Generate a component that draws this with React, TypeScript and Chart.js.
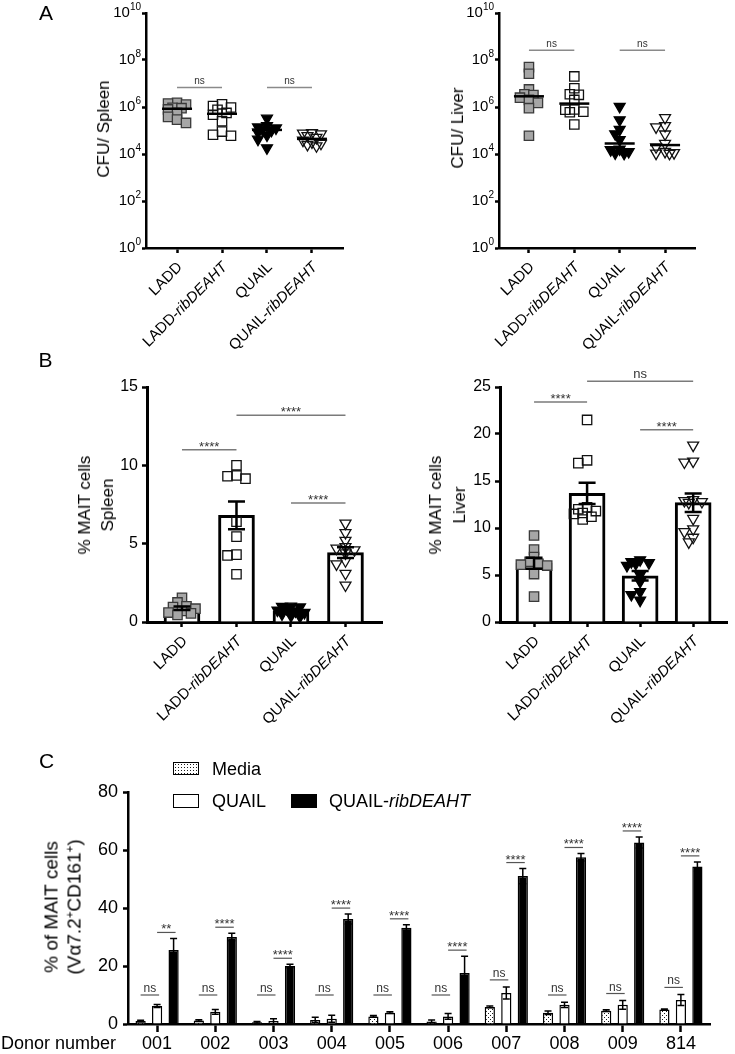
import React, { useEffect, useRef } from "react";
import { Chart, registerables } from "chart.js";

Chart.register(...registerables);

const FONT = '"Liberation Sans", Arial, Helvetica, sans-serif';

// Strain groups used in panels A and B
const strains = ["LADD", "LADD-ribDEAHT", "QUAIL", "QUAIL-ribDEAHT"];

// ---------- Panel A: bacterial burden (CFU per organ, one value per mouse) ----------
const cfuTicks = [1, 1e2, 1e4, 1e6, 1e8, 1e10];

const cfuSpleenLADD = [1.5e6, 1.4e6, 1.26e6, 9.3e5, 8.9e5, 7.9e5, 5.6e5, 3.8e5, 2.9e5, 2.1e5];
const cfuSpleenLADDrib = [1.3e6, 1.1e6, 9.5e5, 7.6e5, 5.6e5, 4.7e5, 2.5e5, 9.0e4, 6.6e4, 6.0e4];
const cfuSpleenQUAIL = [3.3e5, 1.6e5, 1.4e5, 1.26e5, 1.12e5, 1.0e5, 8.3e4, 6.3e4, 4.2e4, 1.8e4];
const cfuSpleenQUAILrib = [7.9e4, 7.6e4, 7.1e4, 6.0e4, 5.0e4, 3.8e4, 3.2e4, 2.8e4, 2.5e4, 2.2e4];

const cfuLiverLADD = [5.0e7, 2.6e7, 5.6e6, 3.5e6, 3.2e6, 2.5e6, 2.0e6, 1.5e6, 8.9e5, 6.0e4];
const cfuLiverLADDrib = [2.0e7, 6.3e6, 3.5e6, 3.3e6, 2.0e6, 7.9e5, 7.6e5, 6.3e5, 6.0e5, 1.8e5];
const cfuLiverQUAIL = [1.05e6, 2.8e5, 1.1e5, 7.1e4, 4.0e4, 1.6e4, 1.5e4, 1.25e4, 1.1e4, 1.05e4];
const cfuLiverQUAILrib = [3.5e5, 1.6e5, 1.4e5, 7.0e4, 2.8e4, 2.0e4, 1.26e4, 1.12e4, 1.07e4, 1.05e4];

const cfuSpleen = [cfuSpleenLADD, cfuSpleenLADDrib, cfuSpleenQUAIL, cfuSpleenQUAILrib];
const cfuLiver = [cfuLiverLADD, cfuLiverLADDrib, cfuLiverQUAIL, cfuLiverQUAILrib];

type Bracket = { from: number; to: number; at: number; label: string };

const cfuSpleenBrackets: Bracket[] = [
  { from: 0, to: 1, at: 6.8e6, label: "ns" },
  { from: 2, to: 3, at: 6.8e6, label: "ns" },
];
const cfuLiverBrackets: Bracket[] = [
  { from: 0, to: 1, at: 2.6e8, label: "ns" },
  { from: 2, to: 3, at: 2.6e8, label: "ns" },
];

// ---------- Panel B: % MAIT cells per mouse ----------
const maitSpleenLADD = [1.55, 1.25, 1.0, 0.95, 0.85, 0.7, 0.6, 0.55, 0.45];
const maitSpleenLADDrib = [10.0, 9.35, 9.15, 9.3, 6.4, 5.45, 4.3, 4.25, 3.05];
const maitSpleenQUAIL = [1.0, 0.98, 0.95, 0.85, 0.75, 0.7, 0.6, 0.5, 0.4, 0.35];
const maitSpleenQUAILrib = [6.3, 5.7, 5.2, 4.8, 4.7, 4.6, 4.4, 3.9, 3.7, 3.1, 2.35];

const maitLiverLADD = [9.2, 7.7, 6.9, 6.4, 6.2, 6.1, 6.0, 5.1, 2.7];
const maitLiverLADDrib = [21.5, 17.2, 16.9, 12.2, 12.0, 11.8, 11.6, 11.5, 11.2, 10.9];
const maitLiverQUAIL = [6.6, 6.4, 6.3, 6.2, 6.0, 5.0, 4.3, 3.2, 2.9, 2.3];
const maitLiverQUAILrib = [18.8, 17.1, 17.0, 13.0, 12.9, 12.8, 12.7, 11.0, 9.9, 9.6, 9.0, 8.5];

const maitSpleen = [maitSpleenLADD, maitSpleenLADDrib, maitSpleenQUAIL, maitSpleenQUAILrib];
const maitLiver = [maitLiverLADD, maitLiverLADDrib, maitLiverQUAIL, maitLiverQUAILrib];

const maitSpleenBrackets: Bracket[] = [
  { from: 0, to: 1, at: 11.0, label: "****" },
  { from: 2, to: 3, at: 7.6, label: "****" },
  { from: 1, to: 3, at: 13.2, label: "****" },
];
const maitLiverBrackets: Bracket[] = [
  { from: 0, to: 1, at: 23.4, label: "****" },
  { from: 2, to: 3, at: 20.45, label: "****" },
  { from: 1, to: 3, at: 25.6, label: "ns" },
];

// ---------- Panel C: human donor MAIT activation (mean, SEM) ----------
const donors = ["001", "002", "003", "004", "005", "006", "007", "008", "009", "814"];
const mediaMean = [1.0, 1.2, 0.6, 1.4, 2.6, 0.9, 5.9, 3.9, 4.6, 5.0];
const mediaErr = [0.3, 0.3, 0.3, 0.9, 0.3, 0.5, 0.3, 0.6, 0.3, 0.2];
const quailMean = [6.2, 4.2, 1.0, 1.8, 3.9, 2.6, 10.7, 6.6, 6.6, 8.3];
const quailErr = [0.5, 0.8, 0.8, 1.2, 0.3, 1.0, 2.1, 0.9, 1.5, 1.9];
const ribMean = [25.5, 30.0, 20.0, 36.2, 33.2, 17.6, 51.0, 57.5, 62.6, 54.3];
const ribErr = [4.0, 1.3, 0.6, 1.7, 1.0, 5.8, 2.6, 1.3, 1.9, 1.6];
const mediaVsQuail = ["ns", "ns", "ns", "ns", "ns", "ns", "ns", "ns", "ns", "ns"];
const quailVsRib = ["**", "****", "****", "****", "****", "****", "****", "****", "****", "****"];
const NS_FLOOR = 10; // lowest level for the Media-vs-QUAIL comparison lines

// ---------- helpers ----------
const mean = (a: number[]) => a.reduce((s, v) => s + v, 0) / a.length;
const sem = (a: number[]) => {
  const m = mean(a);
  const v = a.reduce((s, x) => s + (x - m) * (x - m), 0) / (a.length - 1);
  return Math.sqrt(v) / Math.sqrt(a.length);
};
const median = (a: number[]) => {
  const s = [...a].sort((p, q) => p - q);
  const n = s.length;
  return n % 2 ? s[(n - 1) / 2] : (s[n / 2 - 1] + s[n / 2]) / 2;
};

// deterministic beeswarm: spreads points sideways (in pixels) within +/- maxPx
function swarm(vals: number[], toPx: (v: number) => number, size: number, pxPerUnit: number, maxPx: number) {
  const order = vals.map((_, i) => i).sort((a, b) => toPx(vals[a]) - toPx(vals[b]));
  const placed: [number, number][] = [];
  const out = vals.map(() => 0);
  const stepPx = size * 0.45;
  for (const i of order) {
    const y = toPx(vals[i]);
    let chosen: number | null = null;
    let best = 0;
    let bestGap = -1;
    for (let k = 0; k < 60; k++) {
      const step = Math.ceil(k / 2) * stepPx * (k % 2 ? -1 : 1);
      if (Math.abs(step) > maxPx) break;
      const gap = placed.reduce((g, [px, py]) => Math.min(g, Math.hypot(px - step, py - y)), Infinity);
      if (gap >= size * 0.62) {
        chosen = step;
        break;
      }
      if (gap > bestGap) {
        bestGap = gap;
        best = step;
      }
    }
    const x = chosen === null ? best : chosen;
    placed.push([x, y]);
    out[i] = x / pxPerUnit;
  }
  return out;
}

const markers = [
  { style: "rect", rotation: 0, fill: "#a6a6a6", stroke: "#3a3a3a" },
  { style: "rect", rotation: 0, fill: "rgba(255,255,255,0)", stroke: "#111" },
  { style: "triangle", rotation: 180, fill: "#000", stroke: "#000" },
  { style: "triangle", rotation: 180, fill: "rgba(255,255,255,0)", stroke: "#111" },
];

type Box = { left: number; top: number; width: number; height: number };
type Area = { left: number; top: number; right: number; bottom: number };

function framing(box: Box, area: Area, yAxisW: number) {
  return {
    padding: {
      left: area.left - box.left - yAxisW,
      top: area.top - box.top,
      right: box.left + box.width - area.right,
      bottom: 0,
    },
    xAxisH: box.top + box.height - area.bottom,
    yAxisW,
  };
}

const baseOptions = (f: any) => ({
  animation: false,
  responsive: false,
  devicePixelRatio: 1,
  events: [],
  layout: { padding: f.padding },
  plugins: { legend: { display: false }, tooltip: { enabled: false } },
});

const axisLine = (w: number) => ({ display: true, color: "#000", width: w });
const tickMarks = (len: number, w: number) => ({
  display: true,
  drawOnChartArea: false,
  drawTicks: true,
  tickLength: len,
  tickWidth: w,
  tickColor: "#000",
  offset: false,
});

function drawBracket(ctx: CanvasRenderingContext2D, x1: number, x2: number, y: number, label: string, size: number, lineColor: string, lw: number) {
  ctx.save();
  ctx.strokeStyle = lineColor;
  ctx.lineWidth = lw;
  ctx.beginPath();
  ctx.moveTo(x1, y);
  ctx.lineTo(x2, y);
  ctx.stroke();
  ctx.fillStyle = "#333";
  ctx.font = `${size}px ${FONT}`;
  ctx.textAlign = "center";
  ctx.textBaseline = "alphabetic";
  const stars = label.includes("*");
  ctx.fillText(label, (x1 + x2) / 2, stars ? y + 1 : y - 3);
  ctx.restore();
}

// rotated strain names, the part after "-" in italics
function drawStrainLabels(ctx: CanvasRenderingContext2D, xs: any, axisY: number, size: number) {
  strains.forEach((name, i) => {
    const cut = name.indexOf("-");
    const head = cut >= 0 ? name.slice(0, cut + 1) : name;
    const tail = cut >= 0 ? name.slice(cut + 1) : "";
    ctx.save();
    ctx.translate(xs.getPixelForValue(i) + 3, axisY + 17);
    ctx.rotate(-Math.PI / 4);
    ctx.fillStyle = "#000";
    ctx.textBaseline = "middle";
    ctx.textAlign = "left";
    ctx.font = `${size}px ${FONT}`;
    const w1 = ctx.measureText(head).width;
    ctx.font = `italic ${size}px ${FONT}`;
    const w2 = tail ? ctx.measureText(tail).width : 0;
    ctx.font = `${size}px ${FONT}`;
    ctx.fillText(head, -(w1 + w2), 0);
    if (tail) {
      ctx.font = `italic ${size}px ${FONT}`;
      ctx.fillText(tail, -w2, 0);
    }
    ctx.restore();
  });
}

// "10" with a superscript exponent for the log axis
function drawPowerTicks(ctx: CanvasRenderingContext2D, ys: any, xRight: number) {
  ctx.save();
  ctx.fillStyle = "#000";
  cfuTicks.forEach((v) => {
    const py = ys.getPixelForValue(v);
    const exp = String(Math.round(Math.log10(v)));
    ctx.font = `10px ${FONT}`;
    const ew = ctx.measureText(exp).width;
    ctx.textAlign = "right";
    ctx.textBaseline = "alphabetic";
    ctx.fillText(exp, xRight, py - 3);
    ctx.font = `15px ${FONT}`;
    ctx.textBaseline = "middle";
    ctx.fillText("10", xRight - ew, py);
  });
  ctx.restore();
}

// ---------- chart builders ----------
function cfuConfig(groups: number[][], brackets: Bracket[], box: Box, area: Area, xMin: number, xMax: number) {
  const f = framing(box, area, 40);
  const decadePx = (area.bottom - area.top) / 10;
  const catPx = (area.right - area.left) / (xMax - xMin);
  const datasets = groups.map((vals, g) => {
    const offs = swarm(vals, (v) => -Math.log10(v) * decadePx, 10, catPx, 12);
    const m = markers[g];
    return {
      type: "scatter",
      data: vals.map((v, j) => ({ x: g + offs[j], y: v })),
      pointStyle: m.style,
      pointRotation: m.rotation,
      pointRadius: m.style === "rect" ? 6.6 : 6.3,
      pointBackgroundColor: m.fill,
      pointBorderColor: m.stroke,
      pointBorderWidth: 1.3,
      showLine: false,
    };
  });
  return {
    type: "scatter",
    data: { datasets },
    options: {
      ...baseOptions(f),
      scales: {
        x: {
          type: "linear",
          min: xMin,
          max: xMax,
          offset: false,
          afterBuildTicks: (s: any) => {
            s.ticks = [0, 1, 2, 3].map((value) => ({ value }));
          },
          ticks: { display: false },
          grid: tickMarks(5, 2.5),
          border: axisLine(2.5),
          afterFit: (s: any) => {
            s.height = f.xAxisH;
          },
        },
        y: {
          type: "logarithmic",
          min: 1,
          max: 1e10,
          afterBuildTicks: (s: any) => {
            s.ticks = cfuTicks.map((value) => ({ value }));
          },
          ticks: { display: false },
          grid: tickMarks(4, 2.5),
          border: axisLine(2.5),
          afterFit: (s: any) => {
            s.width = f.yAxisW;
          },
        },
      },
    },
    plugins: [
      {
        id: "cfuOverlay",
        afterDraw(chart: any) {
          const { ctx, chartArea } = chart;
          const xs = chart.scales.x;
          const ys = chart.scales.y;
          ctx.save();
          ctx.strokeStyle = "#000";
          ctx.lineWidth = 2.5;
          groups.forEach((vals, g) => {
            const px = xs.getPixelForValue(g);
            const py = ys.getPixelForValue(median(vals));
            ctx.beginPath();
            ctx.moveTo(px - 15, py);
            ctx.lineTo(px + 15, py);
            ctx.stroke();
          });
          ctx.restore();
          brackets.forEach((b) =>
            drawBracket(ctx, xs.getPixelForValue(b.from), xs.getPixelForValue(b.to), ys.getPixelForValue(b.at), b.label, 10, "#8a8a8a", 1.5)
          );
          drawPowerTicks(ctx, ys, chartArea.left - 5);
          drawStrainLabels(ctx, xs, chartArea.bottom, 15);
        },
      },
    ],
  };
}

function maitConfig(groups: number[][], brackets: Bracket[], box: Box, area: Area, xMin: number, xMax: number, yMax: number) {
  const f = framing(box, area, 40);
  const unitPx = (area.bottom - area.top) / yMax;
  const catPx = (area.right - area.left) / (xMax - xMin);
  const points = groups.map((vals, g) => {
    const offs = swarm(vals, (v) => -v * unitPx, 10, catPx, 14);
    const m = markers[g];
    return {
      type: "scatter",
      order: 1,
      data: vals.map((v, j) => ({ x: g + offs[j], y: v })),
      pointStyle: m.style,
      pointRotation: m.rotation,
      pointRadius: m.style === "rect" ? 6.6 : 6.3,
      pointBackgroundColor: m.fill,
      pointBorderColor: m.stroke,
      pointBorderWidth: 1.3,
      showLine: false,
    };
  });
  const bars = {
    type: "bar",
    order: 2,
    data: groups.map((vals, g) => ({ x: g, y: mean(vals) })),
    backgroundColor: "#fff",
    borderColor: "#000",
    borderWidth: 3,
    barThickness: 36,
  };
  return {
    type: "bar",
    data: { datasets: [bars, ...points] },
    options: {
      ...baseOptions(f),
      scales: {
        x: {
          type: "linear",
          min: xMin,
          max: xMax,
          offset: false,
          afterBuildTicks: (s: any) => {
            s.ticks = [0, 1, 2, 3].map((value) => ({ value }));
          },
          ticks: { display: false },
          grid: tickMarks(5, 2.5),
          border: axisLine(3),
          afterFit: (s: any) => {
            s.height = f.xAxisH;
          },
        },
        y: {
          type: "linear",
          min: 0,
          max: yMax,
          ticks: { stepSize: 5, color: "#000", font: { family: FONT, size: 16 }, padding: 4 },
          grid: tickMarks(5, 2.5),
          border: axisLine(3),
          afterFit: (s: any) => {
            s.width = f.yAxisW;
          },
        },
      },
    },
    plugins: [
      {
        id: "maitOverlay",
        afterDraw(chart: any) {
          const { ctx, chartArea } = chart;
          const xs = chart.scales.x;
          const ys = chart.scales.y;
          ctx.save();
          ctx.strokeStyle = "#000";
          ctx.lineWidth = 2.5;
          groups.forEach((vals, g) => {
            const m = mean(vals);
            const e = sem(vals);
            const px = xs.getPixelForValue(g);
            const top = ys.getPixelForValue(m + e);
            const bot = ys.getPixelForValue(Math.max(0, m - e));
            ctx.beginPath();
            ctx.moveTo(px, top);
            ctx.lineTo(px, bot);
            ctx.moveTo(px - 8.5, top);
            ctx.lineTo(px + 8.5, top);
            ctx.moveTo(px - 8.5, bot);
            ctx.lineTo(px + 8.5, bot);
            ctx.stroke();
          });
          ctx.restore();
          brackets.forEach((b) =>
            drawBracket(ctx, xs.getPixelForValue(b.from), xs.getPixelForValue(b.to), ys.getPixelForValue(b.at), b.label, 13, "#7a7a7a", 1.5)
          );
          drawStrainLabels(ctx, xs, chartArea.bottom, 15);
        },
      },
    ],
  };
}

function dotPattern() {
  const c = document.createElement("canvas");
  c.width = 4;
  c.height = 4;
  const g = c.getContext("2d") as CanvasRenderingContext2D;
  g.fillStyle = "#fff";
  g.fillRect(0, 0, 4, 4);
  g.fillStyle = "#1a1a1a";
  g.fillRect(0, 0, 1, 1);
  g.fillRect(2, 2, 1, 1);
  return g.createPattern(c, "repeat") as CanvasPattern;
}

function donorConfig(box: Box, area: Area) {
  const f = framing(box, area, 50);
  const common = { borderColor: "#000", borderWidth: 1.5, categoryPercentage: 0.85, barPercentage: 0.62 };
  const errs = [mediaErr, quailErr, ribErr];
  const means = [mediaMean, quailMean, ribMean];
  const X_TICK = 8;
  const X_PAD = 1;
  return {
    type: "bar",
    data: {
      labels: donors,
      datasets: [
        { label: "Media", data: mediaMean, backgroundColor: dotPattern(), ...common },
        { label: "QUAIL", data: quailMean, backgroundColor: "#fff", ...common },
        { label: "QUAIL-ribDEAHT", data: ribMean, backgroundColor: "#000", ...common },
      ],
    },
    options: {
      ...baseOptions(f),
      scales: {
        x: {
          type: "category",
          offset: true,
          ticks: { color: "#000", font: { family: FONT, size: 18 }, padding: X_PAD, autoSkip: false, maxRotation: 0 },
          grid: tickMarks(X_TICK, 2.5),
          border: axisLine(2.5),
          afterFit: (s: any) => {
            s.height = f.xAxisH;
          },
        },
        y: {
          type: "linear",
          min: 0,
          max: 80,
          ticks: { stepSize: 20, color: "#000", font: { family: FONT, size: 18 }, padding: 5 },
          grid: tickMarks(5, 2.5),
          border: axisLine(2.5),
          afterFit: (s: any) => {
            s.width = f.yAxisW;
          },
        },
      },
    },
    plugins: [
      {
        id: "donorOverlay",
        afterDraw(chart: any) {
          const { ctx, chartArea } = chart;
          const ys = chart.scales.y;
          const metas = [0, 1, 2].map((d) => chart.getDatasetMeta(d).data);
          ctx.save();
          ctx.strokeStyle = "#000";
          ctx.lineWidth = 1.5;
          metas.forEach((bars: any[], d) => {
            bars.forEach((bar: any, i: number) => {
              const m = means[d][i];
              const e = errs[d][i];
              const top = ys.getPixelForValue(m + e);
              const bot = ys.getPixelForValue(Math.max(0, m - e));
              ctx.beginPath();
              ctx.moveTo(bar.x, top);
              ctx.lineTo(bar.x, bot);
              ctx.moveTo(bar.x - 3.5, top);
              ctx.lineTo(bar.x + 3.5, top);
              ctx.moveTo(bar.x - 3.5, bot);
              ctx.lineTo(bar.x + 3.5, bot);
              ctx.stroke();
            });
          });
          ctx.restore();
          donors.forEach((_, i) => {
            const b0 = metas[0][i];
            const b1 = metas[1][i];
            const b2 = metas[2][i];
            const lowTop = Math.min(
              ys.getPixelForValue(mediaMean[i] + mediaErr[i]),
              ys.getPixelForValue(quailMean[i] + quailErr[i])
            );
            const nsY = Math.min(ys.getPixelForValue(NS_FLOOR), lowTop - 7);
            drawBracket(ctx, b0.x, b1.x + 2, nsY, mediaVsQuail[i], 12, "#555", 1.2);
            const starY = ys.getPixelForValue(ribMean[i] + ribErr[i]) - 6;
            drawBracket(ctx, b1.x, b2.x + 2, starY, quailVsRib[i], 13, "#555", 1.2);
          });
          ctx.save();
          ctx.fillStyle = "#000";
          ctx.font = `18px ${FONT}`;
          ctx.textAlign = "left";
          ctx.textBaseline = "middle";
          ctx.fillText("Donor number", 1, chartArea.bottom + X_TICK + X_PAD + 10.8);
          ctx.restore();
        },
      },
    ],
  };
}

// ---------- layout ----------
const boxAL: Box = { left: 0, top: 0, width: 370, height: 360 };
const areaAL: Area = { left: 146, top: 13, right: 343, bottom: 248 };
const boxAR: Box = { left: 370, top: 0, width: 365, height: 360 };
const areaAR: Area = { left: 499, top: 13, right: 695, bottom: 248 };
const boxBL: Box = { left: 0, top: 370, width: 390, height: 370 };
const areaBL: Area = { left: 147, top: 387, right: 382, bottom: 622 };
const boxBR: Box = { left: 380, top: 370, width: 355, height: 370 };
const areaBR: Area = { left: 500, top: 387, right: 733, bottom: 622 };
const boxC: Box = { left: 0, top: 745, width: 735, height: 309 };
const areaC: Area = { left: 128, top: 792, right: 710, bottom: 1024 };

function ChartCanvas({ box, build }: { box: Box; build: () => any }) {
  const ref = useRef<HTMLCanvasElement | null>(null);
  useEffect(() => {
    const chart = new Chart(ref.current as HTMLCanvasElement, build());
    return () => chart.destroy();
  }, []);
  return (
    <canvas
      ref={ref}
      width={box.width}
      height={box.height}
      style={{ position: "absolute", left: box.left, top: box.top, width: box.width, height: box.height }}
    />
  );
}

function VTitle({ cx, cy, lines, size, lh }: { cx: number; cy: number; lines: React.ReactNode[]; size: number; lh: number }) {
  return (
    <div
      style={{
        position: "absolute",
        left: cx,
        top: cy,
        transform: "translate(-50%, -50%) rotate(-90deg)",
        whiteSpace: "nowrap",
        textAlign: "center",
        fontSize: size,
        lineHeight: `${lh}px`,
      }}
    >
      {lines.map((l, i) => (
        <div key={i}>{l}</div>
      ))}
    </div>
  );
}

function Letter({ x, y, t }: { x: number; y: number; t: string }) {
  return <div style={{ position: "absolute", left: x, top: y, fontSize: 21, lineHeight: "21px" }}>{t}</div>;
}

const sup = (t: string) => (
  <span style={{ fontSize: "0.6em", position: "relative", top: "-0.65em" }}>{t}</span>
);

export default function App() {
  return (
    <div
      style={{
        position: "absolute",
        left: 0,
        top: 0,
        width: 735,
        height: 1054,
        overflow: "hidden",
        background: "#fff",
        fontFamily: FONT,
        color: "#000",
      }}
    >
      <ChartCanvas box={boxAL} build={() => cfuConfig(cfuSpleen, cfuSpleenBrackets, boxAL, areaAL, -0.69, 3.69)} />
      <ChartCanvas box={boxAR} build={() => cfuConfig(cfuLiver, cfuLiverBrackets, boxAR, areaAR, -0.66, 3.66)} />
      <ChartCanvas box={boxBL} build={() => maitConfig(maitSpleen, maitSpleenBrackets, boxBL, areaBL, -0.642, 3.67, 15)} />
      <ChartCanvas box={boxBR} build={() => maitConfig(maitLiver, maitLiverBrackets, boxBR, areaBR, -0.642, 3.64, 25)} />
      <ChartCanvas box={boxC} build={() => donorConfig(boxC, areaC)} />

      <Letter x={39} y={2.3} t="A" />
      <Letter x={38.5} y={349} t="B" />
      <Letter x={39} y={750.3} t="C" />

      <VTitle cx={104} cy={128.5} lines={["CFU/ Spleen"]} size={17} lh={20} />
      <VTitle cx={457.5} cy={128} lines={["CFU/ Liver"]} size={17} lh={20} />
      <VTitle cx={95.5} cy={505} lines={["% MAIT cells", "Spleen"]} size={17} lh={23} />
      <VTitle cx={447.5} cy={505} lines={["% MAIT cells", "Liver"]} size={17} lh={24} />
      <VTitle
        cx={63.5}
        cy={907}
        lines={[
          "% of MAIT cells",
          <>
            (Vα7.2{sup("+")}CD161{sup("+")})
          </>,
        ]}
        size={19}
        lh={23}
      />

      {/* legend for panel C */}
      <div
        style={{
          position: "absolute",
          left: 173,
          top: 762,
          width: 26,
          height: 13,
          boxSizing: "border-box",
          border: "1.5px solid #000",
          backgroundColor: "#fff",
          backgroundImage: "radial-gradient(circle, #1a1a1a 0.7px, transparent 0.9px)",
          backgroundSize: "3px 3px",
        }}
      />
      <div style={{ position: "absolute", left: 212, top: 760.2, fontSize: 18, lineHeight: "18px" }}>Media</div>
      <div
        style={{
          position: "absolute",
          left: 173,
          top: 794,
          width: 26,
          height: 14,
          boxSizing: "border-box",
          border: "1.5px solid #000",
          background: "#fff",
        }}
      />
      <div style={{ position: "absolute", left: 212, top: 792.2, fontSize: 18, lineHeight: "18px" }}>QUAIL</div>
      <div style={{ position: "absolute", left: 291, top: 794, width: 26, height: 14, background: "#000" }} />
      <div style={{ position: "absolute", left: 329, top: 792.2, fontSize: 18, lineHeight: "18px", whiteSpace: "nowrap" }}>
        QUAIL-<i>ribDEAHT</i>
      </div>
    </div>
  );
}
